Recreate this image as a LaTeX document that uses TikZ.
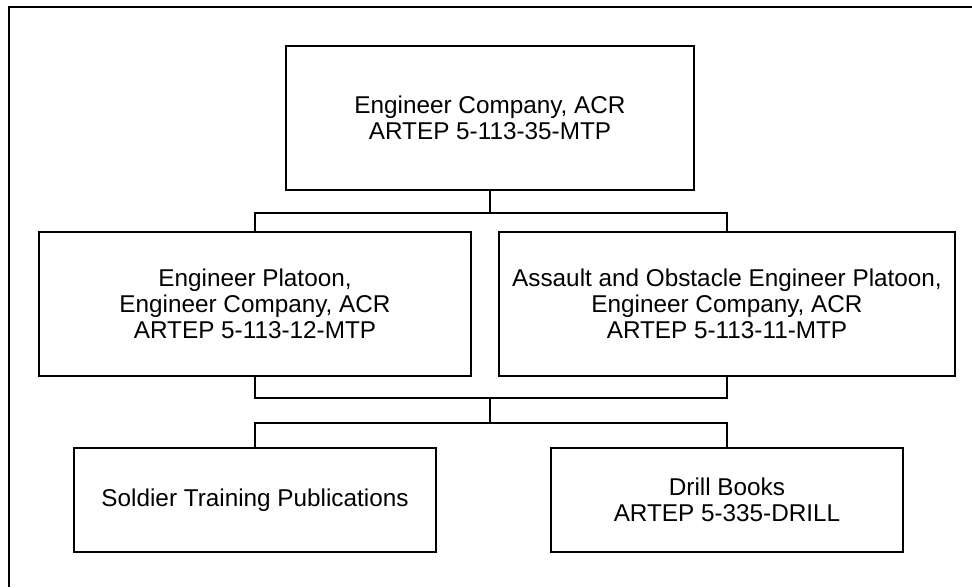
\documentclass[tikz,border=0pt]{standalone}
\usepackage{fontspec}
\setmainfont{Liberation Sans}
\begin{document}
\begin{tikzpicture}[x=1pt,y=-1pt,
  box/.style={draw=black,line width=1.5pt,align=center,inner sep=0pt,
    font=\fontsize{24.3}{26}\selectfont},
  link/.style={draw=black,line width=1.5pt},
  frameline/.style={draw=black,line width=2.5pt}]
\useasboundingbox (0,0) rectangle (972,587);
\draw[frameline] (972,7) -- (9,7) -- (9,587);
\node[box,minimum width=408pt,minimum height=144pt] (top) at (490,118) {Engineer Company, ACR\\ARTEP 5-113-35-MTP};
\node[box,minimum width=432pt,minimum height=144pt] (ml) at (255,304) {Engineer Platoon,\\Engineer Company, ACR\\ARTEP 5-113-12-MTP};
\node[box,minimum width=456pt,minimum height=144pt] (mr) at (727,304) {Assault and Obstacle Engineer Platoon,\\Engineer Company, ACR\\ARTEP 5-113-11-MTP};
\node[box,minimum width=362pt,minimum height=104pt] (bl) at (255,500) {Soldier Training Publications};
\node[box,minimum width=352pt,minimum height=104pt] (br) at (727,500) {Drill Books\\ARTEP 5-335-DRILL};
\coordinate (j1) at (490,213);
\coordinate (j2) at (490,398);
\coordinate (j3) at (490,423);
\draw[link] (top.south) -- (j1);
\draw[link] (ml.north) |- (j1) -| (mr.north);
\draw[link] (ml.south) |- (j2) -| (mr.south);
\draw[link] (j2) -- (j3);
\draw[link] (bl.north) |- (j3) -| (br.north);
\end{tikzpicture}
\end{document}
